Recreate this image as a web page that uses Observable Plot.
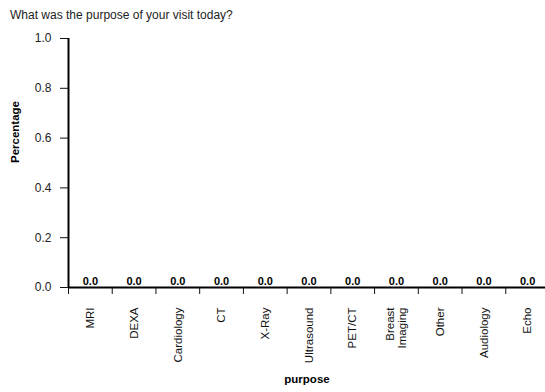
<!DOCTYPE html>
<html>
<head>
<meta charset="utf-8">
<script src="https://cdn.jsdelivr.net/npm/d3@7"></script>
<script src="https://cdn.jsdelivr.net/npm/@observablehq/plot@0.6"></script>
<style>
  body { margin: 0; background: #fff; font-family: "Liberation Sans", Arial, sans-serif; }
  #title { height: 20px; box-sizing: border-box; padding: 9px 0 0 10px; font-size: 12px; line-height: 12px; color: #222; }
</style>
</head>
<body>
<div id="title">What was the purpose of your visit today?</div>
<div id="chart"></div>
<script>
const purposes = ["MRI", "DEXA", "Cardiology", "CT", "X-Ray", "Ultrasound", "PET/CT", "Breast\nImaging", "Other", "Audiology", "Echo"];
const percentages = [0, 0, 0, 0, 0, 0, 0, 0, 0, 0, 0];
const yTicks = [0, 0.2, 0.4, 0.6, 0.8, 1.0];

const data = purposes.map((p, i) => ({purpose: p, value: percentages[i]}));
const xRange = [68, 549];
const bw = (xRange[1] - xRange[0]) / purposes.length;
const font = "Liberation Sans, Arial, sans-serif";

const chart = Plot.plot({
  width: 545,
  height: 372,
  marginTop: 18,
  marginBottom: 105,
  marginLeft: 68,
  marginRight: 0,
  style: {fontFamily: font, fontSize: "11.5px", color: "#111", background: "#fff"},
  x: {domain: purposes, range: xRange, padding: 0, round: false, axis: null},
  y: {domain: [0, 1], axis: null},
  marks: [
    Plot.barY(data, {x: "purpose", y: "value", fill: "#4a7ebb"}),
    Plot.axisY({ticks: yTicks, tickSize: 8, tickFormat: () => "", label: null, stroke: "#111", strokeWidth: 1}),
    Plot.text(yTicks, {y: d => d, frameAnchor: "left", dx: -17, textAnchor: "end", text: d => d3.format(".1f")(d), fontSize: 12, fill: "#222"}),
    Plot.ruleX([purposes[0]], {x: d => d, y1: 0, y2: 1, dx: -bw / 2, stroke: "#000", strokeWidth: 2}),
    Plot.ruleY([0], {stroke: "#000", strokeWidth: 2}),
    Plot.ruleX(purposes, {x: d => d, y1: 0, y2: 0, dx: -bw / 2, insetBottom: -7, stroke: "#111", strokeWidth: 1}),
    Plot.text(data, {x: "purpose", y: "value", text: d => d3.format(".1f")(d.value), dy: -3, lineAnchor: "bottom", fontWeight: "bold", fontSize: 11, fill: "#000"}),
    Plot.text(purposes, {x: d => d, frameAnchor: "bottom", text: d => d, rotate: -90, textAnchor: "end", lineAnchor: "middle", dy: 20, fontSize: 11.5, fill: "#111"}),
    Plot.text(["Percentage"], {frameAnchor: "left", text: d => d, rotate: -90, dx: -53, fontWeight: "bold", fontSize: 11.5, fill: "#000"}),
    Plot.text(["purpose"], {frameAnchor: "bottom", text: d => d, dy: 95, fontWeight: "bold", fontSize: 11.5, fill: "#000"})
  ]
});
document.getElementById("chart").appendChild(chart);
</script>
</body>
</html>
